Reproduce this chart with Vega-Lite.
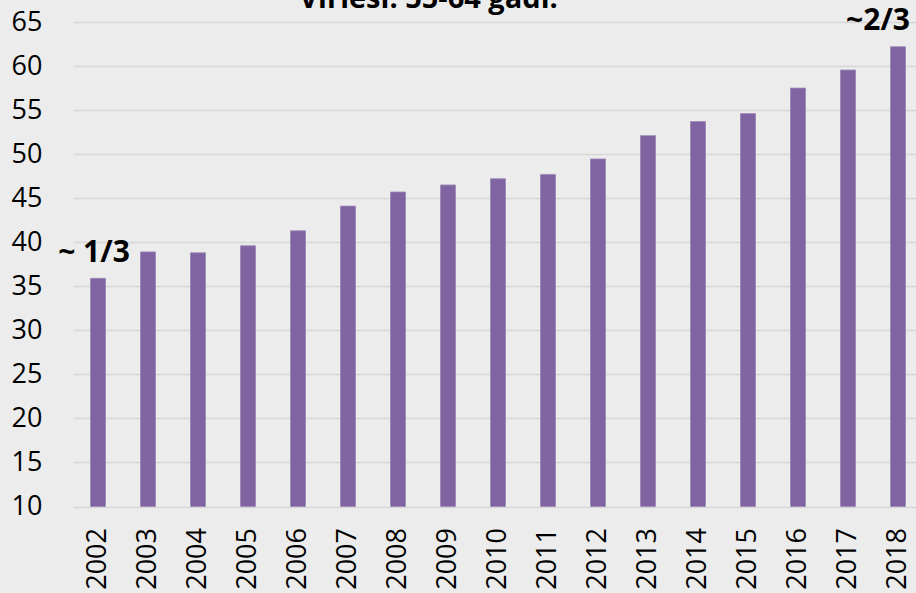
{
  "$schema": "https://vega.github.io/schema/vega-lite/v6.json",
  "autosize": "none",
  "width": 843,
  "height": 484.5,
  "padding": {"left": 73, "top": 22, "right": 0, "bottom": 86.5},
  "background": "#ececec",
  "title": {
    "text": "Vīrieši: 55-64 gadi.",
    "font": "Open Sans",
    "fontSize": 29,
    "fontWeight": "bold",
    "color": "#000000",
    "baseline": "alphabetic",
    "offset": 0,
    "dx": -66,
    "dy": 31
  },
  "config": {
    "view": {"stroke": null},
    "axis": {
      "labelFont": "Open Sans",
      "labelFontSize": 27,
      "labelColor": "#000000",
      "domain": false,
      "ticks": false,
      "title": null
    }
  },
  "data": {
    "values": [
      {"year": "2002", "value": 35.9, "note": "~ 1/3"},
      {"year": "2003", "value": 38.9},
      {"year": "2004", "value": 38.8},
      {"year": "2005", "value": 39.6},
      {"year": "2006", "value": 41.3},
      {"year": "2007", "value": 44.1},
      {"year": "2008", "value": 45.7},
      {"year": "2009", "value": 46.5},
      {"year": "2010", "value": 47.2},
      {"year": "2011", "value": 47.7},
      {"year": "2012", "value": 49.45},
      {"year": "2013", "value": 52.1},
      {"year": "2014", "value": 53.7},
      {"year": "2015", "value": 54.6},
      {"year": "2016", "value": 57.5},
      {"year": "2017", "value": 59.55},
      {"year": "2018", "value": 62.2, "note": "~2/3"}
    ]
  },
  "encoding": {
    "x": {
      "field": "year",
      "type": "ordinal",
      "scale": {"range": [0, 850], "paddingInner": 0.7, "paddingOuter": 0.35},
      "axis": {"labelAngle": 270, "labelPadding": 21, "grid": false}
    },
    "y": {
      "field": "value",
      "type": "quantitative",
      "scale": {"domain": [10, 65], "nice": false, "zero": false},
      "axis": {
        "values": [10, 15, 20, 25, 30, 35, 40, 45, 50, 55, 60, 65],
        "labelPadding": 31,
        "grid": true,
        "gridColor": "#d6d6d6",
        "gridWidth": 1.5
      }
    }
  },
  "layer": [
    {
      "mark": {"type": "bar", "fill": "#8064A2", "stroke": "#9a86b6", "strokeWidth": 0.8, "clip": false},
      "encoding": {"y2": {"datum": 10}}
    },
    {
      "transform": [{"filter": "datum.year == '2002'"}],
      "mark": {
        "type": "text",
        "font": "Open Sans",
        "fontSize": 30,
        "fontWeight": "bold",
        "color": "#000000",
        "baseline": "alphabetic",
        "align": "center",
        "dx": -4,
        "dy": -16
      },
      "encoding": {"text": {"field": "note"}}
    },
    {
      "transform": [{"filter": "datum.year == '2018'"}],
      "mark": {
        "type": "text",
        "font": "Open Sans",
        "fontSize": 30,
        "fontWeight": "bold",
        "color": "#000000",
        "baseline": "alphabetic",
        "align": "center",
        "dx": -20,
        "dy": -17
      },
      "encoding": {"text": {"field": "note"}}
    }
  ]
}
